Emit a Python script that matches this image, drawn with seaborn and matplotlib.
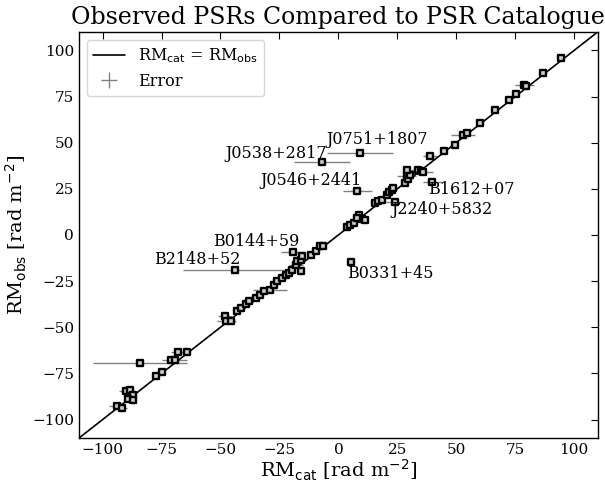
import numpy as np
import pandas as pd
import seaborn as sns
import matplotlib.pyplot as plt

# catalogue RM, observed RM, error on catalogue RM (rad m^-2)
rm_cat = [-94.1, -91.6, -89.9, -88.5, -87.3, -89.2, -87.1, -84.0, -77.5, -74.9,
          -70.9, -69.5, -68.1, -64.3, -48.1, -47.5, -45.6, -42.8, -41.4, -39.2,
          -37.8, -35.0, -33.2, -31.5, -29.0, -27.3, -25.9, -23.8, -22.4, -21.0,
          -19.6, -18.1, -16.0, -17.5, -16.0, -15.4, -19.2, -11.8, -9.7, -7.6,
          -6.6, 3.6, 5.1, 6.5, 8.6, 10.0, 11.1, 7.8, 15.6, 17.0,
          18.7, 20.5, 21.6, 22.6, 23.3, 28.3, 29.0, 29.7, 30.4, 29.0,
          33.6, 35.0, 36.0, 38.8, 44.9, 49.4, 52.9, 54.7, 59.9, 66.5,
          72.3, 75.4, 78.9, 79.6, 86.9, 94.3,
          9.3, -6.9, 8.1, 24.0, 39.9, 5.5, -43.9]
rm_obs = [-92.8, -93.7, -84.3, -83.8, -86.5, -88.6, -89.2, -69.5, -76.6, -74.2,
          -67.5, -67.5, -63.3, -63.3, -44.0, -46.5, -46.8, -41.4, -39.5, -37.2,
          -35.9, -34.1, -32.3, -30.5, -29.6, -26.9, -25.1, -23.3, -21.5, -20.6,
          -18.8, -16.1, -19.7, -14.3, -13.4, -11.6, -9.2, -10.7, -8.9, -6.2,
          -5.8, 4.3, 5.6, 6.5, 11.0, 8.7, 8.3, 9.2, 17.3, 18.2,
          19.1, 21.8, 23.1, 24.5, 25.4, 28.2, 31.7, 30.3, 32.6, 35.4,
          35.4, 34.4, 33.9, 42.6, 45.6, 48.9, 54.3, 55.2, 60.6, 67.5,
          72.9, 76.5, 81.4, 80.8, 87.7, 95.8,
          44.4, 39.5, 24.0, 17.6, 28.9, -14.8, -18.8]
cat_err = [3, 2, 3, 1.5, 1, 1, 1, 20, 1, 1,
           2, 5.5, 3, 1, 3, 4, 1, 1, 1, 1,
           1, 1, 1, 1, 7, 1, 1, 1, 1, 1,
           1, 3, 1, 1, 1, 1, 5, 1, 1, 1,
           1, 1, 1, 1, 1, 1, 1, 1, 1, 1,
           1, 1, 1, 1, 1, 1, 4, 1, 1, 1,
           3, 1, 4, 3, 1, 1, 5, 1, 1, 1,
           1, 1, 4, 1, 1, 1,
           14, 12, 6, 4, 4, 1, 22]
obs_err = [0.5] * len(rm_cat)

# outlier labels and where their text sits
psr_names = ["J0751+1807", "J0538+2817", "J0546+2441", "J2240+5832",
             "B1612+07", "B0331+45", "B0144+59", "B2148+52"]
label_x = [-4.9, -4.8, 9.7, 22.4, 38.1, 3.9, -16.5, -41.4]
label_y = [51.6, 44.0, 29.6, 13.7, 24.5, -20.6, -3.5, -13.4]
label_ha = ["left", "right", "right", "left", "left", "left", "right", "right"]

df = pd.DataFrame({"cat": rm_cat, "obs": rm_obs, "cat_err": cat_err, "obs_err": obs_err})

sns.set_style("white")
plt.rcParams["font.family"] = ["DejaVu Serif"]
plt.rcParams["mathtext.fontset"] = "dejavusans"
plt.rcParams["text.color"] = "black"
plt.rcParams["axes.labelcolor"] = "black"
plt.rcParams["xtick.color"] = "black"
plt.rcParams["ytick.color"] = "black"

fig = plt.figure(figsize=(6.05, 4.84), dpi=100)
ax = fig.add_axes([0.1306, 0.095, 0.8574, 0.839])

ax.errorbar(df["cat"], df["obs"], xerr=df["cat_err"], yerr=df["obs_err"],
            fmt="none", ecolor="grey", elinewidth=1, zorder=1, label="Error")
line = np.array([-110, 110])
sns.lineplot(x=line, y=line, color="black", linewidth=1.2, ax=ax, zorder=2,
             label=r"RM$_{\rm cat}$ = RM$_{\rm obs}$")
sns.scatterplot(data=df, x="cat", y="obs", marker="s", s=16, color="#cccccc",
                edgecolor="black", linewidth=1.7, ax=ax, zorder=3)

for name, tx, ty, ha in zip(psr_names, label_x, label_y, label_ha):
    ax.text(tx, ty, name, ha=ha, va="center", fontsize=11.5, color="black")

ax.set_xlim(-110, 110)
ax.set_ylim(-110, 110)
ax.set_xticks([-100, -75, -50, -25, 0, 25, 50, 75, 100])
ax.set_yticks([-100, -75, -50, -25, 0, 25, 50, 75, 100])
ax.tick_params(direction="in", top=True, right=True, labelsize=11, length=5,
               color="black", labelcolor="black")
for s in ax.spines.values():
    s.set_color("black")
    s.set_linewidth(1)

ax.set_xlabel(r"RM$_{\rm cat}$ [rad m$^{-2}$]", fontsize=14, labelpad=1)
ax.set_ylabel(r"RM$_{\rm obs}$ [rad m$^{-2}$]", fontsize=14, labelpad=2)
ax.set_title("Observed PSRs Compared to PSR Catalogue", fontsize=17, color="black")

handles, labels = ax.get_legend_handles_labels()
order = [labels.index(r"RM$_{\rm cat}$ = RM$_{\rm obs}$"), labels.index("Error")]
ax.legend([handles[i] for i in order], [labels[i] for i in order],
          loc="upper left", fontsize=11.5, frameon=True, labelcolor="black")

fig.savefig("out.png", dpi=100)
